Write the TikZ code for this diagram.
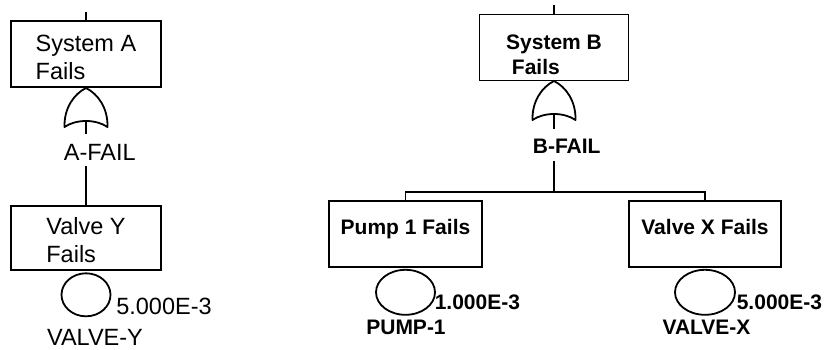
\documentclass[tikz,border=0pt]{standalone}
\usepackage{fontspec}
\setmainfont{Liberation Sans}
\usetikzlibrary{positioning, shapes.geometric}

\newcommand{\toplift}[1]{\rule{0pt}{#1}}

\tikzset{
  evbox/.style={draw, rectangle, inner sep=0pt, align=left, minimum height=66pt},
  txtA/.style={font=\fontsize{23.5}{28}\selectfont},
  txtB/.style={font=\bfseries\fontsize{21}{25}\selectfont},
  basic/.style={draw, ellipse, inner sep=0pt},
  tag/.style={inner sep=0pt},
  gatetag/.style={inner xsep=0pt, inner ysep=2pt, anchor=west},
  orgate/.pic={
    \draw[line join=round] (-21.5,19) .. controls (-22,0) and (-12,-14) .. (0,-20)
      .. controls (12,-14) and (22,0) .. (21.5,19)
      .. controls (10,11) and (-10,11) .. (-21.5,19) -- cycle;
    \coordinate (-in) at (0,13);
  }
}

\begin{document}
\begin{tikzpicture}[x=1pt, y=-1pt, line width=1.8pt]
    \useasboundingbox (0,0) rectangle (824,349);

    % System A branch
    \coordinate (topA) at (86,12);
    \node[evbox, txtA, minimum width=150pt] (sysA) at (86,54) {\toplift{23.4pt}System A\\Fails};
    \pic (gA) at (86,108) {orgate};
    \node[gatetag, txtA, text height=23pt, text depth=3pt] (lblA) at (63,150) {A-FAIL};
    \node[evbox, txtA, minimum width=150pt, minimum height=64pt] (valveY) at (86,238) {\toplift{22pt}Valve Y\\Fails};
    \node[basic, minimum width=49pt, minimum height=43pt, below=1.5pt of valveY] (evY) {};
    \node[tag, txtA, anchor=west] (pY) at ([shift={(4,11.5)}]evY.east) {5.000E-3};
    \node[tag, txtA] (nY) at ([shift={(9,20)}]evY.south) {VALVE-Y};

    % System B branch
    \coordinate (topB) at (554,5);
    \node[evbox, txtB, minimum width=149pt] (sysB) at (554,47.5) {\toplift{30pt}System B\\~Fails};
    \pic (gB) at (554,101) {orgate};
    \node[gatetag, txtB, text height=21pt, text depth=5pt] (lblB) at (532,145) {B-FAIL};
    \coordinate (split) at (554,192);
    \node[evbox, txtB, minimum width=153pt, text height=15pt, text depth=15pt] (pump1) at (405.5,234) {Pump 1 Fails};
    \node[evbox, txtB, minimum width=152pt, text height=15pt, text depth=15pt] (valveX) at (705,234) {Valve X Fails};
    \node[basic, minimum width=59pt, minimum height=45pt, below=1pt of pump1] (evP) {};
    \node[basic, minimum width=60pt, minimum height=45pt, below=1pt of valveX] (evX) {};
    \node[tag, txtB, anchor=west] (pP) at ([shift={(-2,10)}]evP.east) {1.000E-3};
    \node[tag, txtB, anchor=west] (pX) at ([shift={(0,10)}]evX.east) {5.000E-3};
    \node[tag, txtB] (nP) at ([shift={(0.5,12)}]evP.south) {PUMP-1};
    \node[tag, txtB] (nX) at ([shift={(1.5,12)}]evX.south) {VALVE-X};

    % Connectors
    \draw (topA) -- (sysA);
    \draw (gA-in) -- (gA-in |- lblA.north);
    \draw (gA-in |- lblA.south) -- (valveY);
    \draw (topB) -- (sysB);
    \draw (gB-in) -- (gB-in |- lblB.north);
    \draw (gB-in |- lblB.south) -- (split);
    \draw (pump1.north) |- (split) -| (valveX.north);
\end{tikzpicture}
\end{document}
